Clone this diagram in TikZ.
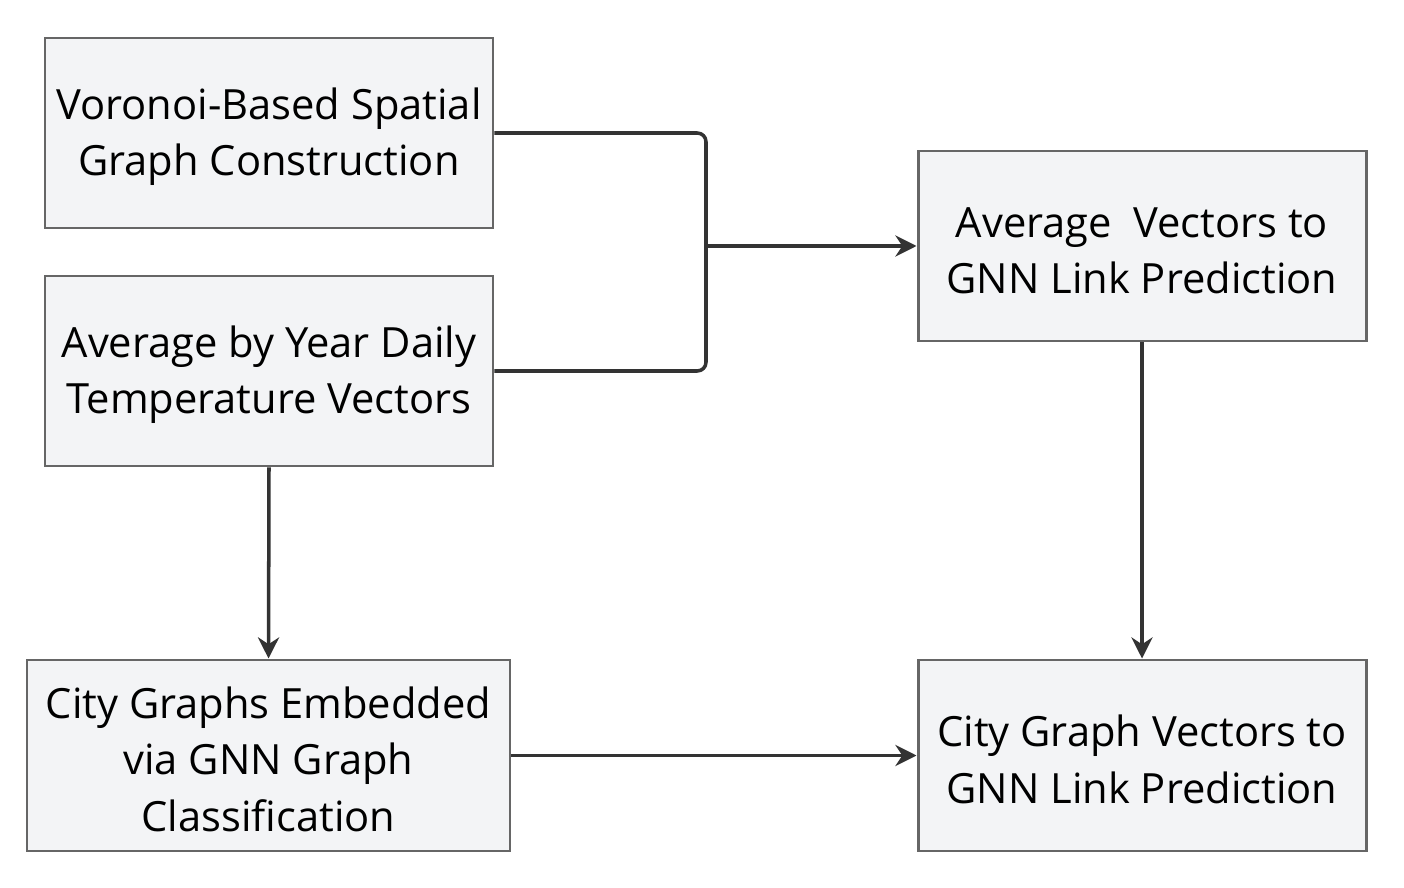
\documentclass[tikz,border=0pt]{standalone}
\usepackage{fontspec}
\setmainfont{Open Sans}
\usepackage{xcolor}
\usetikzlibrary{arrows.meta}
\definecolor{riempimento}{HTML}{F3F4F6}
\definecolor{bordo}{HTML}{666666}
\definecolor{linea}{HTML}{333333}

\begin{document}
\begin{tikzpicture}[
    blocco/.style={draw=bordo, line width=1.7pt, fill=riempimento, align=center,
        minimum width=8.96cm, minimum height=3.8cm, inner sep=0pt,
        font=\fontsize{23.7}{32}\selectfont},
    freccia/.style={draw=linea, line width=2pt, -{Stealth[length=12pt,width=12pt]}},
    collega/.style={draw=linea, line width=2pt, rounded corners=5pt}
]

            % Cornice
            \useasboundingbox (0,0) rectangle (28.08,17.74);

            % Blocchi
            \node[blocco] (voronoi) at (5.38,15.08) {\strut Voronoi-Based Spatial\\Graph Construction};
            \node[blocco] (media) at (5.38,10.32) {\strut Average by Year Daily\\Temperature Vectors};
            \node[blocco, minimum width=9.66cm, minimum height=3.82cm] (citta) at (5.37,2.63) {\strut City Graphs Embedded\\via GNN Graph\\Classification};
            \node[blocco] (vettori) at (22.84,12.82) {\strut Average\ \ Vectors to\\GNN Link Prediction};
            \node[blocco, minimum height=3.82cm] (cittavet) at (22.84,2.63) {\strut City Graph Vectors to\\GNN Link Prediction};

            % Giunzione
            \coordinate (giunto) at (14.12,12.82);

            % Collegamenti
            \draw[collega] (voronoi.east) -| (giunto);
            \draw[collega] (media.east) -| (giunto);
            \draw[freccia] (giunto) -- (vettori.west);
            \draw[freccia] (media.south) -- (citta.north);
            \draw[freccia] (citta.east) -- (cittavet.west);
            \draw[freccia] (vettori.south) -- (cittavet.north);

        \end{tikzpicture}
\end{document}
